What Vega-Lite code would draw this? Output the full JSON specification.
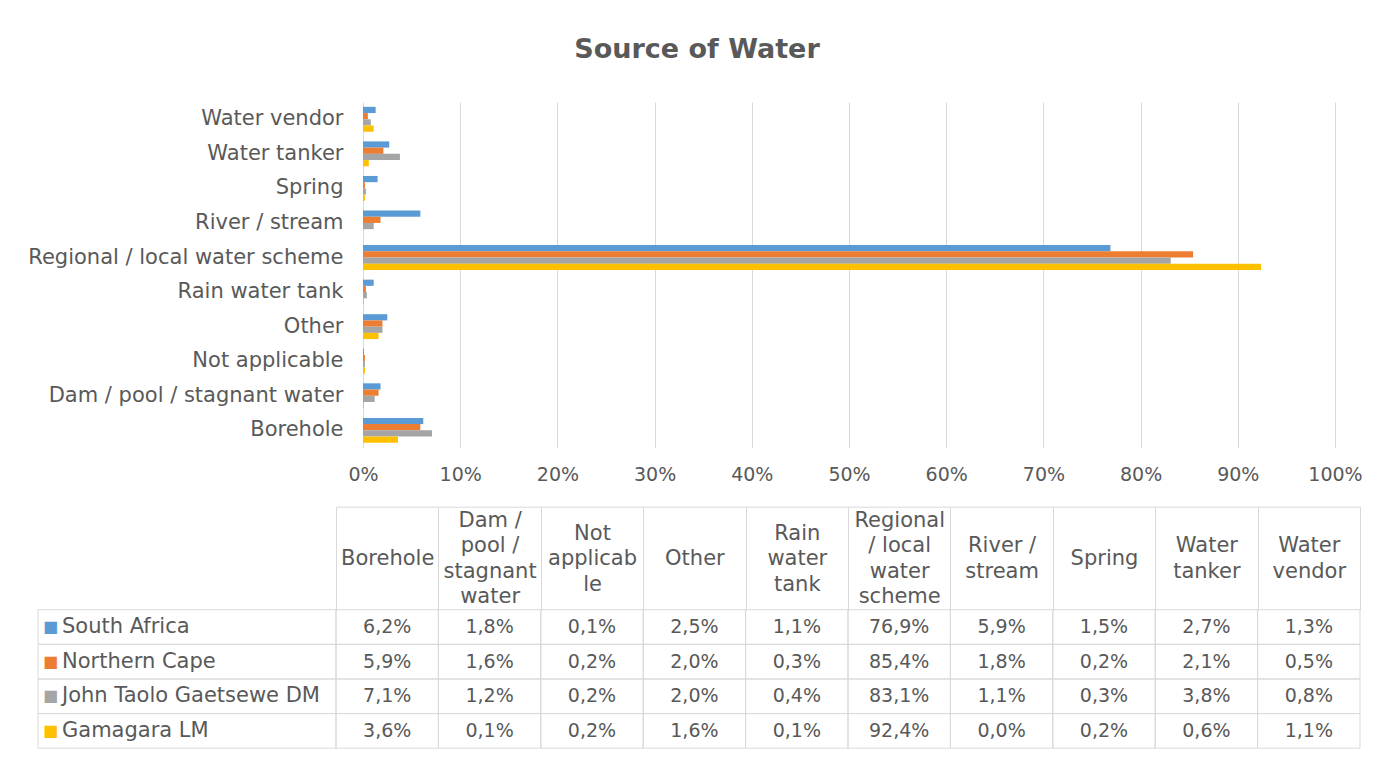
{
  "$schema": "https://vega.github.io/schema/vega-lite/v6.json",
  "background": "white",
  "padding": {"left": 27, "top": 36, "right": 10, "bottom": 10},
  "title": {
    "text": "Source of Water",
    "font": "DejaVu Sans",
    "fontSize": 27,
    "fontWeight": "bold",
    "color": "#595959",
    "anchor": "middle",
    "dx": 2,
    "offset": 38
  },
  "datasets": {
    "water": [
      {"Source": "Borehole", "Series": "South Africa", "Share": 0.062},
      {"Source": "Borehole", "Series": "Northern Cape", "Share": 0.059},
      {"Source": "Borehole", "Series": "John Taolo Gaetsewe DM", "Share": 0.071},
      {"Source": "Borehole", "Series": "Gamagara LM", "Share": 0.036},
      {"Source": "Dam / pool / stagnant water", "Series": "South Africa", "Share": 0.018},
      {"Source": "Dam / pool / stagnant water", "Series": "Northern Cape", "Share": 0.016},
      {"Source": "Dam / pool / stagnant water", "Series": "John Taolo Gaetsewe DM", "Share": 0.012},
      {"Source": "Dam / pool / stagnant water", "Series": "Gamagara LM", "Share": 0.001},
      {"Source": "Not applicable", "Series": "South Africa", "Share": 0.001},
      {"Source": "Not applicable", "Series": "Northern Cape", "Share": 0.002},
      {"Source": "Not applicable", "Series": "John Taolo Gaetsewe DM", "Share": 0.002},
      {"Source": "Not applicable", "Series": "Gamagara LM", "Share": 0.002},
      {"Source": "Other", "Series": "South Africa", "Share": 0.025},
      {"Source": "Other", "Series": "Northern Cape", "Share": 0.020},
      {"Source": "Other", "Series": "John Taolo Gaetsewe DM", "Share": 0.020},
      {"Source": "Other", "Series": "Gamagara LM", "Share": 0.016},
      {"Source": "Rain water tank", "Series": "South Africa", "Share": 0.011},
      {"Source": "Rain water tank", "Series": "Northern Cape", "Share": 0.003},
      {"Source": "Rain water tank", "Series": "John Taolo Gaetsewe DM", "Share": 0.004},
      {"Source": "Rain water tank", "Series": "Gamagara LM", "Share": 0.001},
      {"Source": "Regional / local water scheme", "Series": "South Africa", "Share": 0.769},
      {"Source": "Regional / local water scheme", "Series": "Northern Cape", "Share": 0.854},
      {"Source": "Regional / local water scheme", "Series": "John Taolo Gaetsewe DM", "Share": 0.831},
      {"Source": "Regional / local water scheme", "Series": "Gamagara LM", "Share": 0.924},
      {"Source": "River / stream", "Series": "South Africa", "Share": 0.059},
      {"Source": "River / stream", "Series": "Northern Cape", "Share": 0.018},
      {"Source": "River / stream", "Series": "John Taolo Gaetsewe DM", "Share": 0.011},
      {"Source": "River / stream", "Series": "Gamagara LM", "Share": 0.000},
      {"Source": "Spring", "Series": "South Africa", "Share": 0.015},
      {"Source": "Spring", "Series": "Northern Cape", "Share": 0.002},
      {"Source": "Spring", "Series": "John Taolo Gaetsewe DM", "Share": 0.003},
      {"Source": "Spring", "Series": "Gamagara LM", "Share": 0.002},
      {"Source": "Water tanker", "Series": "South Africa", "Share": 0.027},
      {"Source": "Water tanker", "Series": "Northern Cape", "Share": 0.021},
      {"Source": "Water tanker", "Series": "John Taolo Gaetsewe DM", "Share": 0.038},
      {"Source": "Water tanker", "Series": "Gamagara LM", "Share": 0.006},
      {"Source": "Water vendor", "Series": "South Africa", "Share": 0.013},
      {"Source": "Water vendor", "Series": "Northern Cape", "Share": 0.005},
      {"Source": "Water vendor", "Series": "John Taolo Gaetsewe DM", "Share": 0.008},
      {"Source": "Water vendor", "Series": "Gamagara LM", "Share": 0.011}
    ]
  },
  "bounds": "flush",
  "spacing": 161.7,
  "vconcat": [
    {
      "width": 1322,
      "height": 345.6,
      "data": {"name": "water"},
      "mark": {"type": "bar"},
      "encoding": {
        "y": {
          "field": "Source",
          "type": "nominal",
          "sort": "descending",
          "scale": {"paddingInner": 0.28, "paddingOuter": 0.14},
          "axis": {
            "title": null,
            "ticks": false,
            "domain": false,
            "labelPadding": -305,
            "labelFontSize": 21,
            "labelLimit": 400
          }
        },
        "x": {
          "field": "Share",
          "type": "quantitative",
          "scale": {"domain": [-0.33436, 1.02572], "nice": false, "zero": false},
          "axis": {
            "title": null,
            "values": [0, 0.1, 0.2, 0.3, 0.4, 0.5, 0.6, 0.7, 0.8, 0.9, 1],
            "format": ".0%",
            "grid": true,
            "gridColor": "#d9d9d9",
            "ticks": false,
            "domain": false,
            "labelFlush": false,
            "labelFontSize": 19,
            "labelPadding": 18
          }
        },
        "yOffset": {
          "field": "Series",
          "type": "nominal",
          "sort": ["South Africa", "Northern Cape", "John Taolo Gaetsewe DM", "Gamagara LM"],
          "scale": {"paddingInner": 0, "paddingOuter": 0}
        },
        "color": {
          "field": "Series",
          "type": "nominal",
          "scale": {
            "domain": ["South Africa", "Northern Cape", "John Taolo Gaetsewe DM", "Gamagara LM"],
            "range": ["#5B9BD5", "#ED7D31", "#A5A5A5", "#FFC000"]
          },
          "legend": null
        }
      }
    },
    {
      "bounds": "flush",
      "spacing": 0,
      "hconcat": [
        {
          "width": 298,
          "height": 138.5,
          "data": {"name": "water"},
          "transform": [{"aggregate": [{"op": "count", "as": "n"}], "groupby": ["Series"]}],
          "encoding": {
            "y": {
              "field": "Series",
              "type": "nominal",
              "sort": ["South Africa", "Northern Cape", "John Taolo Gaetsewe DM", "Gamagara LM"],
              "scale": {"paddingInner": 0, "paddingOuter": 0},
              "axis": null
            }
          },
          "layer": [
            {
              "mark": {"type": "rect", "filled": false, "color": "#d9d9d9", "strokeWidth": 1}
            },
            {
              "mark": {"type": "text", "align": "left", "baseline": "middle", "dx": 24, "fontSize": 21, "color": "#595959"},
              "encoding": {
                "x": {"datum": 0, "type": "quantitative", "scale": {"domain": [0, 1]}, "axis": null},
                "text": {"field": "Series"}
              }
            },
            {
              "mark": {"type": "text", "align": "left", "baseline": "middle", "dx": 5, "fontSize": 16, "text": "■"},
              "encoding": {
                "x": {"datum": 0, "type": "quantitative", "scale": {"domain": [0, 1]}, "axis": null},
                "color": {
                  "field": "Series",
                  "type": "nominal",
                  "scale": {
                    "domain": ["South Africa", "Northern Cape", "John Taolo Gaetsewe DM", "Gamagara LM"],
                    "range": ["#5B9BD5", "#ED7D31", "#A5A5A5", "#FFC000"]
                  },
                  "legend": null
                }
              }
            }
          ]
        },
        {
          "width": 1024,
          "height": 138.5,
          "data": {"name": "water"},
          "encoding": {
            "x": {
              "field": "Source",
              "type": "nominal",
              "scale": {"paddingInner": 0, "paddingOuter": 0},
              "axis": {
                "orient": "top",
                "title": null,
                "offset": 103,
                "domain": true,
                "domainColor": "#d9d9d9",
                "ticks": true,
                "tickBand": "extent",
                "tickSize": -103,
                "tickColor": "#d9d9d9",
                "grid": false,
                "labelAngle": 0,
                "labelPadding": {
                  "condition": [
                    {"test": "datum.value == 'Dam / pool / stagnant water' || datum.value == 'Regional / local water scheme'", "value": 89.25},
                    {"test": "datum.value == 'Not applicable' || datum.value == 'Rain water tank'", "value": 76.5},
                    {"test": "datum.value == 'River / stream' || datum.value == 'Water tanker' || datum.value == 'Water vendor'", "value": 63.75}
                  ],
                  "value": 51
                },
                "labelBaseline": "middle",
                "labelFontSize": 21,
                "labelLineHeight": 25.5,
                "labelLimit": 300,
                "labelOverlap": false,
                "labelExpr": "datum.value == 'Dam / pool / stagnant water' ? ['Dam /', 'pool /', 'stagnant', 'water'] : datum.value == 'Not applicable' ? ['Not', 'applicab', 'le'] : datum.value == 'Rain water tank' ? ['Rain', 'water', 'tank'] : datum.value == 'Regional / local water scheme' ? ['Regional', '/ local', 'water', 'scheme'] : datum.value == 'River / stream' ? ['River /', 'stream'] : datum.value == 'Water tanker' ? ['Water', 'tanker'] : datum.value == 'Water vendor' ? ['Water', 'vendor'] : datum.label"
              }
            },
            "y": {
              "field": "Series",
              "type": "nominal",
              "sort": ["South Africa", "Northern Cape", "John Taolo Gaetsewe DM", "Gamagara LM"],
              "scale": {"paddingInner": 0, "paddingOuter": 0},
              "axis": null
            }
          },
          "layer": [
            {
              "mark": {"type": "rect", "filled": false, "color": "#d9d9d9", "strokeWidth": 1}
            },
            {
              "mark": {"type": "text", "fontSize": 19, "color": "#595959", "baseline": "middle"},
              "encoding": {
                "text": {"field": "Share", "type": "quantitative", "format": ".1%"}
              }
            }
          ]
        }
      ]
    }
  ],
  "config": {
    "font": "DejaVu Sans",
    "view": {"stroke": null},
    "axis": {"labelColor": "#595959", "labelFont": "DejaVu Sans"},
    "locale": {
      "number": {"decimal": ",", "thousands": " ", "grouping": [3], "currency": ["R", ""]}
    }
  }
}
